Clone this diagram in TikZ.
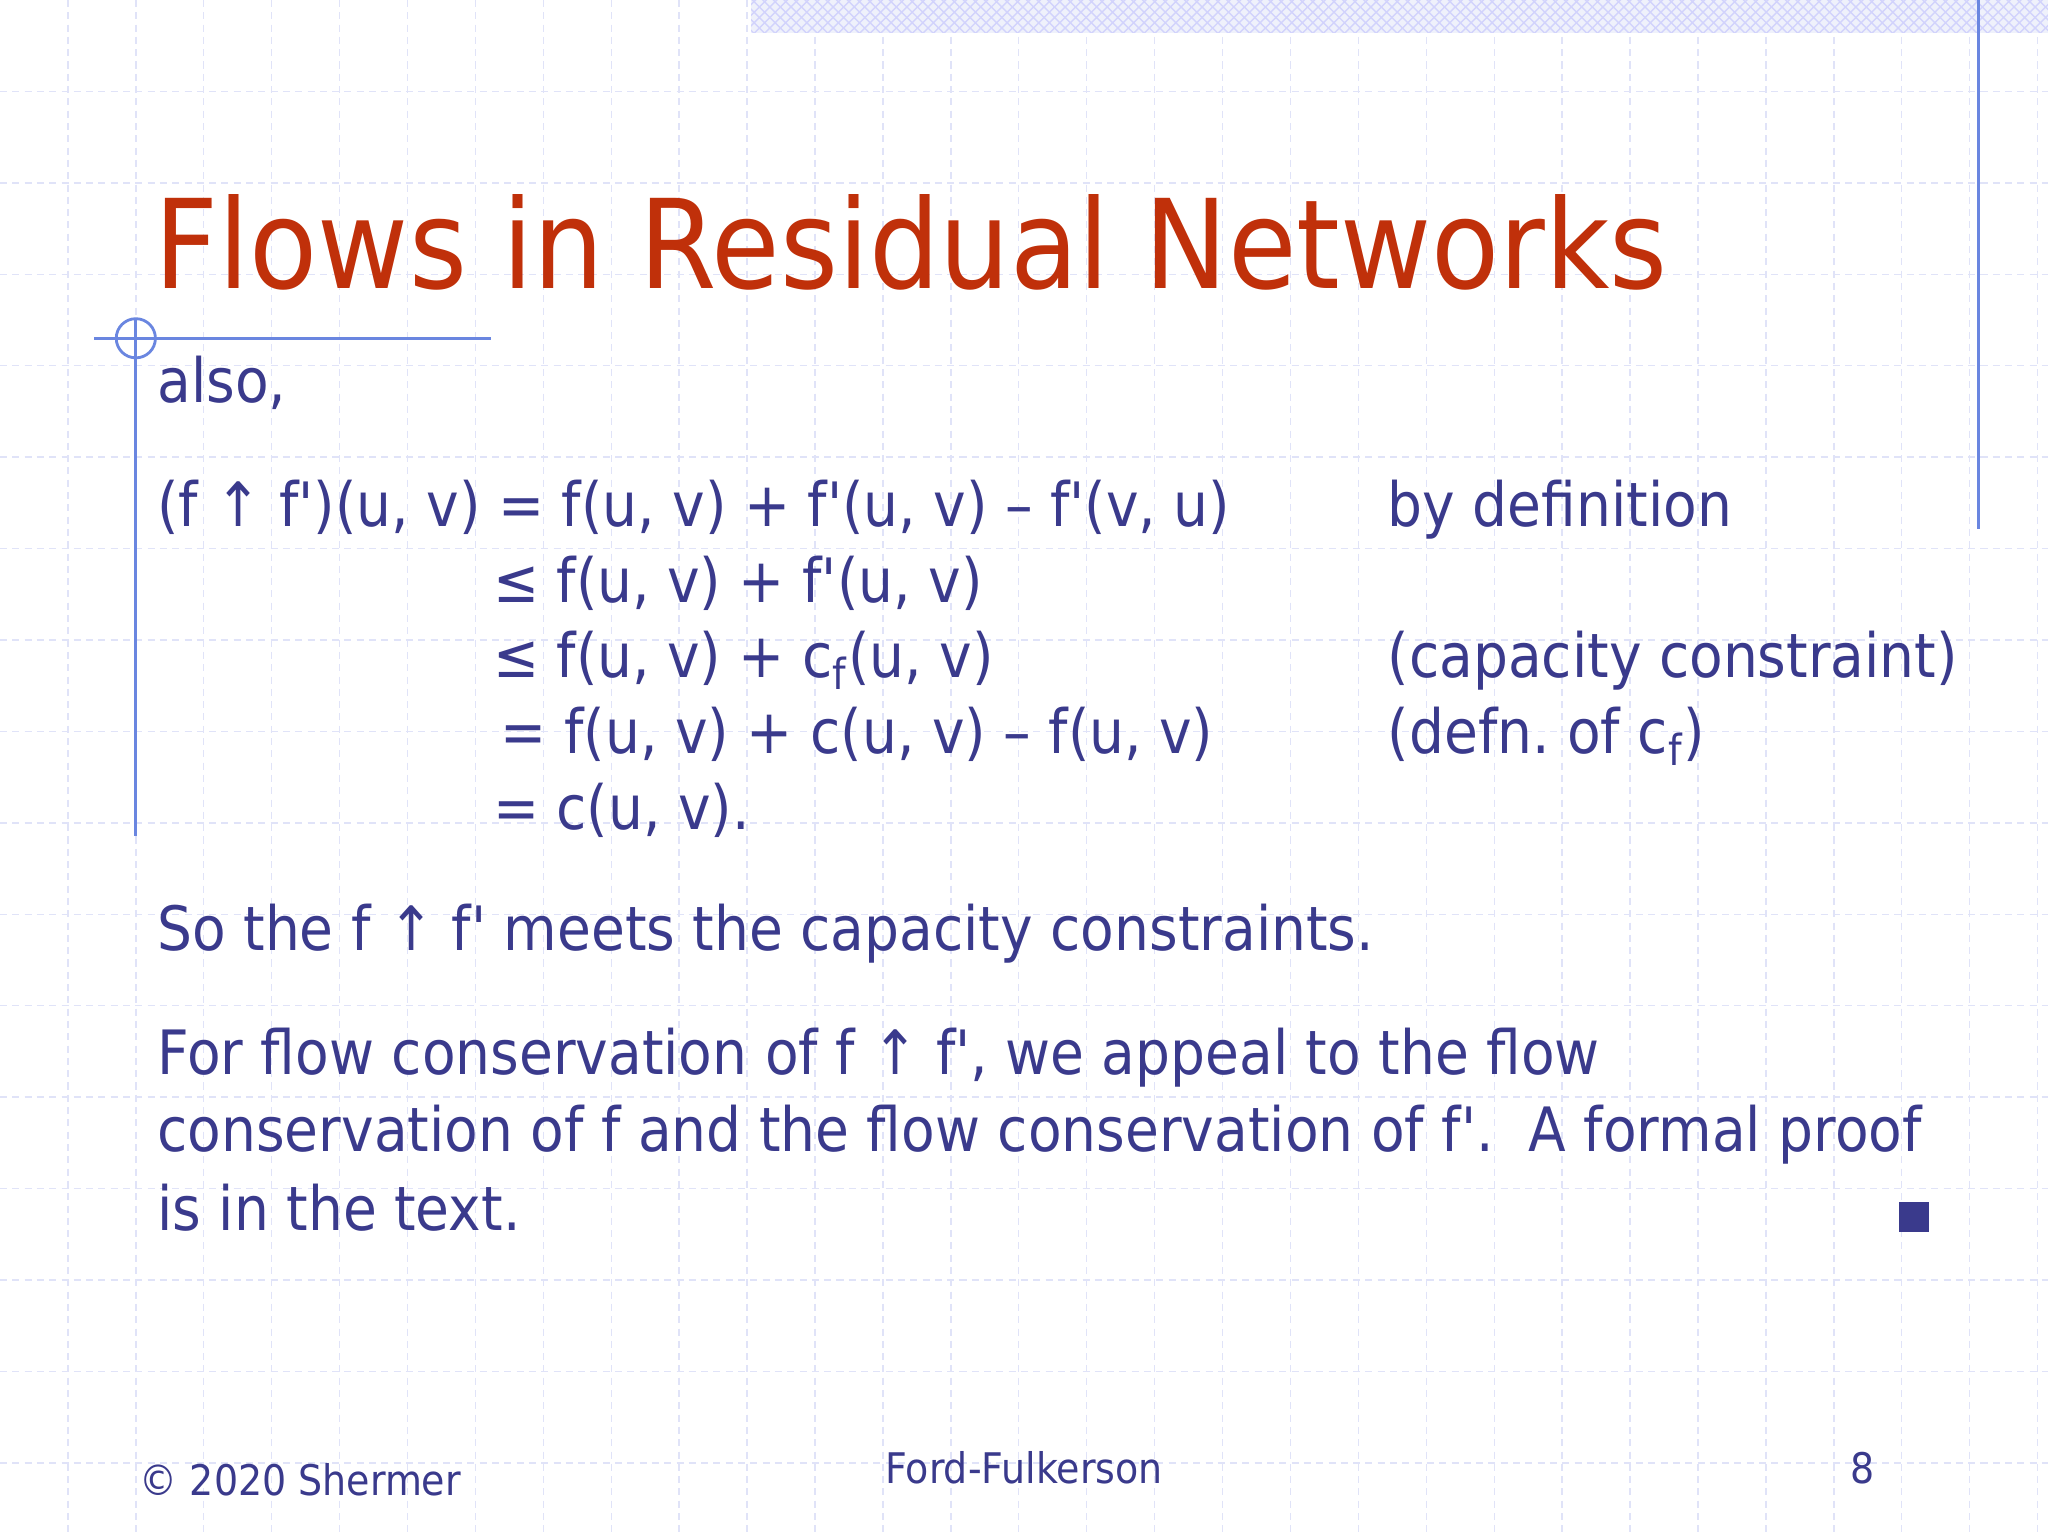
\documentclass[tikz,border=0pt]{standalone}
\usepackage{fontspec}
\newfontfamily\bodyfont{DejaVu Sans}[FakeStretch=0.9]
\usetikzlibrary{patterns}
\definecolor{bodyc}{HTML}{3A3A8C}
\definecolor{titlec}{HTML}{C0300A}
\definecolor{gridc}{HTML}{E0E3F8}
\definecolor{linec}{HTML}{6A86E0}
\frenchspacing
\begin{document}
\begin{tikzpicture}[x=0.013061cm,y=-0.013061cm,
  body/.style={anchor=base west,inner sep=0,text=bodyc,font=\bodyfont\fontsize{17.4}{21}\selectfont},
  foot/.style={anchor=base,inner sep=0,text=bodyc,font=\bodyfont\fontsize{12}{14}\selectfont}]
\useasboundingbox[fill=white] (0,0) rectangle (1568,1176);
\foreach \i in {1,...,30} \draw[gridc,dash pattern=on 2pt off 1.5pt,line width=0.4pt] (52*\i,0) -- (52*\i,1176);
\foreach \i in {1,...,16} \draw[gridc,dash pattern=on 2pt off 1.5pt,line width=0.4pt] (0,70*\i) -- (1568,70*\i);
\fill[gridc!50] (575,0) rectangle (1568,25);
\fill[pattern=crosshatch,pattern color=gridc!80!blue!60] (575,0) rectangle (1568,25);
\draw[linec,line width=0.8pt] (1515,0) -- (1515,405);
\draw[linec,line width=0.8pt] (104,245) -- (104,640);
\draw[linec,line width=0.8pt] (72,259) -- (376,259);
\draw[linec,line width=0.8pt] (104,259) circle (15);
\node[anchor=base west,inner sep=0,text=titlec,font=\bodyfont\fontsize{35.2}{42}\selectfont] (title) at (118,221) {Flows in Residual Networks};
\node[body] (also) at (120,308) {also,};
\node[body] (l1) at (120,403) {(f ↑ f')(u, v) = f(u, v) + f'(u, v) – f'(v, u)};
\node[body] (l2) at (377,461) {≤ f(u, v) + f'(u, v)};
\node[body] (l3) at (377,519) {≤ f(u, v) + c\textsubscript{f}(u, v)};
\node[body] (l4) at (383,577) {= f(u, v) + c(u, v) – f(u, v)};
\node[body] (l5) at (377,635) {= c(u, v).};
\node[body] (r1) at (1062,403) {by definition};
\node[body] (r3) at (1062,519) {(capacity constraint)};
\node[body] (r4) at (1062,577) {(defn. of c\textsubscript{f})};
\node[body] (so) at (120,728) {So the f ↑ f' meets the capacity constraints.};
\node[body] (p1) at (120,823) {For flow conservation of f ↑ f', we appeal to the flow};
\node[body] (p2) at (120,882) {conservation of f and the flow conservation of f'.\ \ A formal proof};
\node[body] (p3) at (120,942) {is in the text.};
\fill[bodyc] (1454,920) rectangle (1477,943);
\node[foot] (f1) at (230,1145) {© 2020 Shermer};
\node[foot] (f2) at (784,1136) {Ford-Fulkerson};
\node[foot] (f3) at (1426,1136) {8};
\end{tikzpicture}
\end{document}
